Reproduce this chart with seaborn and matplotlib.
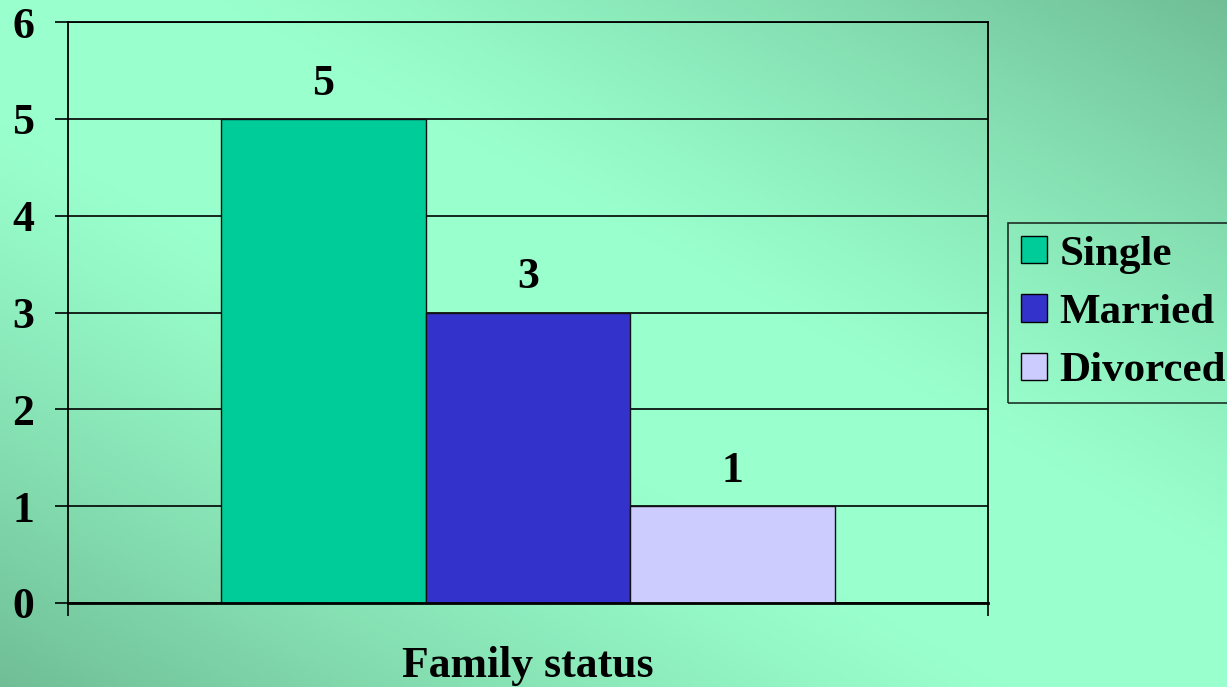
import numpy as np
import pandas as pd
import matplotlib
matplotlib.use("Agg")
import matplotlib.pyplot as plt
import seaborn as sns

# DATA

statuses = ["Single", "Married", "Divorced"]
counts = [5, 3, 1]
bar_colors = ["#00CC99", "#3333CC", "#CCCCFF"]
y_ticks = [0, 1, 2, 3, 4, 5, 6]

df = pd.DataFrame({
    "group": ["Family status"] * len(statuses),
    "status": statuses,
    "count": counts,
})

# STYLE

sns.set_style("ticks")
plt.rcParams["font.family"] = ["Liberation Serif", "DejaVu Serif"]
plt.rcParams["font.weight"] = "bold"
plt.rcParams["text.color"] = "black"
plt.rcParams["axes.labelcolor"] = "black"
plt.rcParams["xtick.color"] = "black"
plt.rcParams["ytick.color"] = "black"

W, H = 1227, 687
fig = plt.figure(figsize=(W / 100, H / 100), dpi=100)

# gradient background (light along the main diagonal, darker in two corners)
bg = fig.add_axes([0, 0, 1, 1], zorder=-10)
gx, gy = np.meshgrid(np.linspace(0, 1, 300), np.linspace(0, 1, 200))
d = np.abs(gx - gy)
t = np.clip((d - 0.18) / 0.82, 0, 1) ** 1.2
light = np.array([0x99, 0xFF, 0xCC]) / 255
dark = np.array([0x70, 0xBE, 0x96]) / 255
img = light[None, None, :] * (1 - t[..., None]) + dark[None, None, :] * t[..., None]
bg.imshow(img, aspect="auto", extent=[0, 1, 1, 0])
bg.set_axis_off()

ax = fig.add_axes([68 / W, 1 - 603 / H, (988 - 68) / W, (603 - 22) / H])
ax.set_facecolor("none")

sns.barplot(
    data=df, x="group", y="count", hue="status",
    palette=bar_colors, saturation=1, width=0.667,
    edgecolor="#111111", linewidth=1.0, ax=ax,
)

for container in ax.containers:
    ax.bar_label(container, padding=11, fontsize=31.5, fontweight="bold")

ax.set_xlim(-0.5, 0.5)
ax.set_ylim(0, 6)
ax.set_xticks([-0.5, 0.5])
ax.set_xticklabels(["", ""])
ax.set_yticks(y_ticks)
ax.set_yticklabels([str(v) for v in y_ticks], fontsize=31.5, fontweight="bold")
ax.tick_params(axis="both", length=9.4, width=1.2, color="black", direction="out")
ax.tick_params(axis="y", pad=15)

ax.yaxis.grid(True, color="black", linewidth=1.2)
ax.set_axisbelow(True)

for side in ["left", "right", "top"]:
    ax.spines[side].set_visible(True)
    ax.spines[side].set_color("black")
    ax.spines[side].set_linewidth(1.3)
ax.spines["bottom"].set_color("black")
ax.spines["bottom"].set_linewidth(2)

ax.set_ylabel("")
ax.set_xlabel("Family status", fontsize=31.5, fontweight="bold", labelpad=18)

leg = ax.legend(
    loc="upper left",
    bbox_to_anchor=(1008 / W, 1 - 223 / H),
    bbox_transform=fig.transFigure,
    frameon=True, fancybox=False, shadow=False,
    edgecolor="black", facecolor="none", framealpha=None,
    prop={"family": "Liberation Serif", "weight": "bold", "size": 31},
    handlelength=0.6, handleheight=0.6, handletextpad=0.3,
    labelspacing=0.47, borderpad=0.3, borderaxespad=0,
)
leg.get_frame().set_linewidth(1.2)
for h in leg.legend_handles:
    h.set_edgecolor("black")
    h.set_linewidth(1.0)

fig.savefig("out.png", dpi=100)
